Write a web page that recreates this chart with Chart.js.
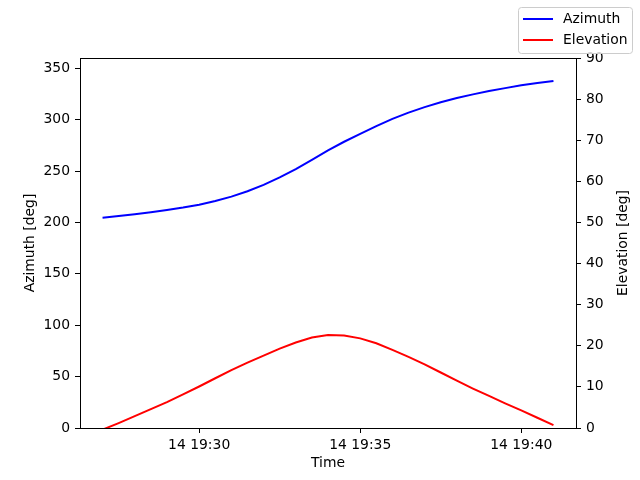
<!DOCTYPE html>
<html>
<head>
<meta charset="utf-8">
<script src="https://cdn.jsdelivr.net/npm/chart.js@4.4.1/dist/chart.umd.min.js"></script>
<style>
  html, body { margin: 0; padding: 0; background: #fff; }
  #wrap { width: 640px; height: 480px; }
</style>
</head>
<body>
<div id="wrap"><canvas id="chart" width="640" height="480"></canvas></div>
<script>
// sample times (14th, every 30 s)
const times = [
  '19:27:00', '19:27:30', '19:28:00', '19:28:30', '19:29:00', '19:29:30',
  '19:30:00', '19:30:30', '19:31:00', '19:31:30', '19:32:00', '19:32:30',
  '19:33:00', '19:33:30', '19:34:00', '19:34:30', '19:35:00', '19:35:30',
  '19:36:00', '19:36:30', '19:37:00', '19:37:30', '19:38:00', '19:38:30',
  '19:39:00', '19:39:30', '19:40:00', '19:40:30', '19:41:00'
];
const azimuth = [
  204.6, 206.2, 207.9, 209.9, 212.1, 214.5,
  217.3, 220.9, 225.1, 230.3, 236.6, 243.8,
  251.9, 260.8, 270.1, 278.5, 286.1, 293.8,
  300.8, 306.8, 312.2, 316.9, 321.0, 324.6,
  327.8, 330.7, 333.4, 335.6, 337.6
];
const elevation = [
  -0.4, 1.2, 2.9, 4.6, 6.3, 8.2,
  10.1, 12.1, 14.1, 15.9, 17.6, 19.3,
  20.8, 22.0, 22.6, 22.5, 21.8, 20.6,
  19.0, 17.3, 15.5, 13.5, 11.5, 9.6,
  7.8, 6.0, 4.3, 2.5, 0.7
];
const xTickLabels = ['14 19:30', '14 19:35', '14 19:40'];
const azimuthTicks = [0, 50, 100, 150, 200, 250, 300, 350];
const elevationTicks = [0, 10, 20, 30, 40, 50, 60, 70, 80, 90];

const FONT = 'DejaVu Sans';
const FONT_SIZE = 13.9;

// "HH:MM[:SS]" -> minutes of day
function toMinutes(t) {
  const p = t.split(':').map(Number);
  return p[0] * 60 + p[1] + (p[2] || 0) / 60;
}

const xs = times.map(toMinutes);
const xSpan = xs[xs.length - 1] - xs[0];
const xMin = xs[0] - 0.05 * xSpan;
const xMax = xs[xs.length - 1] + 0.05 * xSpan;

Chart.defaults.font.family = FONT;
Chart.defaults.font.size = FONT_SIZE;
Chart.defaults.color = '#000';

/**
 * Frame, right-hand axis title and figure legend (matplotlib look)
 */
const extrasPlugin = {
  id: 'extras',
  afterDatasetsDraw(chart) {
    const { ctx, chartArea: a } = chart;
    ctx.save();
    ctx.strokeStyle = '#000';
    ctx.lineWidth = 1;
    ctx.strokeRect(Math.round(a.left) + 0.5, Math.round(a.top) + 0.5,
      Math.round(a.right) - Math.round(a.left), Math.round(a.bottom) - Math.round(a.top));
    ctx.restore();
  },
  afterDraw(chart) {
    const { ctx, chartArea: a } = chart;

    // right axis title, reading bottom to top like the left one
    ctx.save();
    ctx.font = FONT_SIZE + 'px "' + FONT + '"';
    ctx.fillStyle = '#000';
    ctx.textAlign = 'center';
    ctx.textBaseline = 'middle';
    ctx.translate(623, (a.top + a.bottom) / 2);
    ctx.rotate(-Math.PI / 2);
    ctx.fillText('Elevation [deg]', 0, 0);
    ctx.restore();

    // legend box
    ctx.save();
    ctx.beginPath();
    ctx.roundRect(518.5, 7.5, 114, 46, 3);
    ctx.fillStyle = 'rgba(255,255,255,0.8)';
    ctx.fill();
    ctx.strokeStyle = '#cccccc';
    ctx.lineWidth = 1;
    ctx.stroke();
    ctx.font = FONT_SIZE + 'px "' + FONT + '"';
    ctx.textBaseline = 'middle';
    ctx.textAlign = 'left';
    chart.data.datasets.forEach((ds, i) => {
      const y = 19 + i * 21;
      ctx.beginPath();
      ctx.moveTo(523, y);
      ctx.lineTo(553, y);
      ctx.strokeStyle = ds.borderColor;
      ctx.lineWidth = 2;
      ctx.stroke();
      ctx.fillStyle = '#000';
      ctx.fillText(ds.label, 563, y + 0.5);
    });
    ctx.restore();
  }
};

const axisGrid = {
  drawOnChartArea: false,
  drawTicks: true,
  tickLength: 5,
  tickColor: '#000',
  tickWidth: 1
};
const axisBorder = { display: true, color: '#000', width: 1 };

new Chart(document.getElementById('chart'), {
  type: 'line',
  data: {
    datasets: [{
      label: 'Azimuth',
      data: xs.map((x, i) => ({ x: x, y: azimuth[i] })),
      yAxisID: 'y',
      borderColor: '#0000ff',
      backgroundColor: 'transparent',
      borderWidth: 2,
      pointRadius: 0,
      tension: 0,
      clip: 0
    }, {
      label: 'Elevation',
      data: xs.map((x, i) => ({ x: x, y: elevation[i] })),
      yAxisID: 'y1',
      borderColor: '#ff0000',
      backgroundColor: 'transparent',
      borderWidth: 2,
      pointRadius: 0,
      tension: 0,
      clip: 0
    }]
  },
  options: {
    responsive: false,
    devicePixelRatio: 1,
    animation: false,
    layout: { padding: { top: 58, left: 0, right: 0, bottom: 0 } },
    plugins: {
      legend: { display: false },
      tooltip: { enabled: false }
    },
    scales: {
      x: {
        type: 'linear',
        min: xMin,
        max: xMax,
        grid: axisGrid,
        border: axisBorder,
        afterBuildTicks: scale => {
          scale.ticks = xTickLabels.map(l => ({ value: toMinutes(l.split(' ')[1]) }));
        },
        ticks: {
          maxRotation: 0,
          padding: 4,
          callback: (value, index) => xTickLabels[index]
        },
        title: { display: true, text: 'Time', padding: { top: 0, bottom: 8 } },
        afterFit: scale => { scale.height = 52; }
      },
      y: {
        position: 'left',
        min: 0,
        max: 360,
        grid: axisGrid,
        border: axisBorder,
        afterBuildTicks: scale => {
          scale.ticks = azimuthTicks.map(v => ({ value: v }));
        },
        ticks: { padding: 5 },
        title: { display: true, text: 'Azimuth [deg]', padding: { top: 22, bottom: 0 } },
        afterFit: scale => { scale.width = 80; }
      },
      y1: {
        position: 'right',
        min: 0,
        max: 90,
        grid: axisGrid,
        border: axisBorder,
        afterBuildTicks: scale => {
          scale.ticks = elevationTicks.map(v => ({ value: v }));
        },
        ticks: { padding: 5 },
        afterFit: scale => { scale.width = 64; }
      }
    }
  },
  plugins: [extrasPlugin]
});
</script>
</body>
</html>
